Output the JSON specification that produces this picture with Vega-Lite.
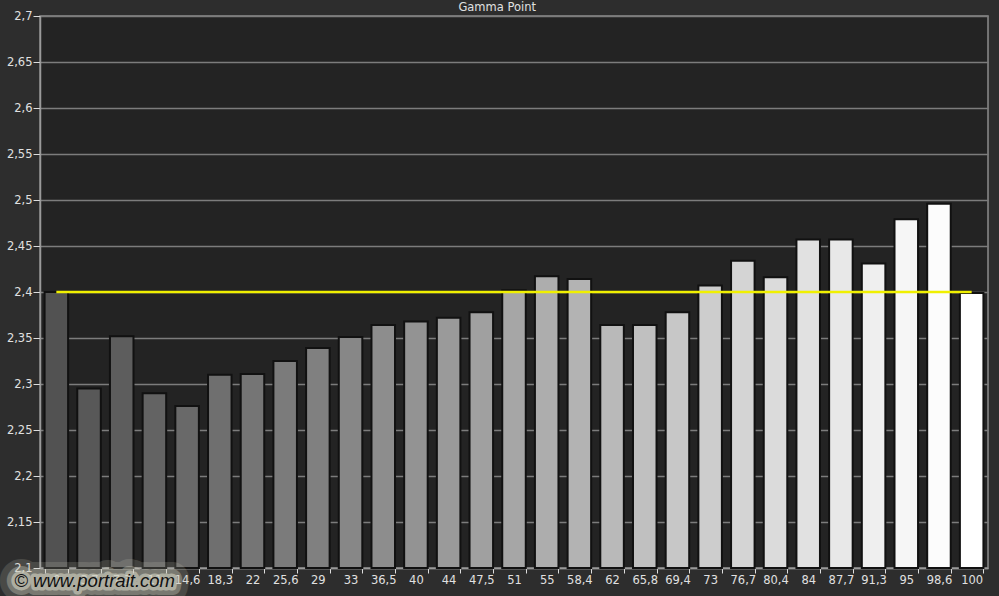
{
  "$schema": "https://vega.github.io/schema/vega-lite/v6.json",
  "width": 948,
  "height": 552,
  "autosize": {"type": "none"},
  "padding": {"left": 40, "top": 16, "right": 11, "bottom": 28},
  "background": "#2d2d2d",
  "title": {"text": "Gamma Point", "color": "#e0e0e0", "font": "DejaVu Sans", "fontSize": 11.5, "fontWeight": "normal", "anchor": "middle", "frame": "bounds", "offset": -3},
  "config": {
    "view": {"fill": "#232323", "stroke": "#8c8c8c", "strokeWidth": 1.5},
    "axis": {"labelFont": "DejaVu Sans", "labelFontSize": 11.5, "labelColor": "#e0e0e0", "domainColor": "#9a9a9a", "domainWidth": 1.5, "tickColor": "#dddddd", "title": null}
  },
  "datasets": {
    "gamma": [
      {"label": "0", "level": 0, "gamma": 2.40, "target": 2.4},
      {"label": "3,7", "level": 3.7, "gamma": 2.295, "target": 2.4},
      {"label": "7,3", "level": 7.3, "gamma": 2.352, "target": 2.4},
      {"label": "11", "level": 11, "gamma": 2.29, "target": 2.4},
      {"label": "14,6", "level": 14.6, "gamma": 2.276, "target": 2.4},
      {"label": "18,3", "level": 18.3, "gamma": 2.31, "target": 2.4},
      {"label": "22", "level": 22, "gamma": 2.311, "target": 2.4},
      {"label": "25,6", "level": 25.6, "gamma": 2.325, "target": 2.4},
      {"label": "29", "level": 29, "gamma": 2.339, "target": 2.4},
      {"label": "33", "level": 33, "gamma": 2.351, "target": 2.4},
      {"label": "36,5", "level": 36.5, "gamma": 2.364, "target": 2.4},
      {"label": "40", "level": 40, "gamma": 2.368, "target": 2.4},
      {"label": "44", "level": 44, "gamma": 2.372, "target": 2.4},
      {"label": "47,5", "level": 47.5, "gamma": 2.378, "target": 2.4},
      {"label": "51", "level": 51, "gamma": 2.402, "target": 2.4},
      {"label": "55", "level": 55, "gamma": 2.417, "target": 2.4},
      {"label": "58,4", "level": 58.4, "gamma": 2.414, "target": 2.4},
      {"label": "62", "level": 62, "gamma": 2.364, "target": 2.4},
      {"label": "65,8", "level": 65.8, "gamma": 2.364, "target": 2.4},
      {"label": "69,4", "level": 69.4, "gamma": 2.378, "target": 2.4},
      {"label": "73", "level": 73, "gamma": 2.407, "target": 2.4},
      {"label": "76,7", "level": 76.7, "gamma": 2.434, "target": 2.4},
      {"label": "80,4", "level": 80.4, "gamma": 2.416, "target": 2.4},
      {"label": "84", "level": 84, "gamma": 2.457, "target": 2.4},
      {"label": "87,7", "level": 87.7, "gamma": 2.457, "target": 2.4},
      {"label": "91,3", "level": 91.3, "gamma": 2.431, "target": 2.4},
      {"label": "95", "level": 95, "gamma": 2.479, "target": 2.4},
      {"label": "98,6", "level": 98.6, "gamma": 2.496, "target": 2.4},
      {"label": "100", "level": 100, "gamma": 2.399, "target": 2.4}
    ],
    "note": [{"text": "© www.portrait.com"}]
  },
  "layer": [
    {
      "data": {"name": "gamma"},
      "mark": {"type": "bar", "stroke": "#111111", "strokeWidth": 2},
      "encoding": {
        "x": {"field": "label", "type": "nominal", "sort": null,
              "scale": {"paddingInner": 0.28, "paddingOuter": 0.14},
              "axis": {"labelAngle": 0, "tickBand": "extent", "tickSize": 5, "labelPadding": 1, "grid": false}},
        "y": {"field": "gamma", "type": "quantitative",
              "scale": {"domain": [2.1, 2.7], "nice": false, "zero": false},
              "axis": {"values": [2.1, 2.15, 2.2, 2.25, 2.3, 2.35, 2.4, 2.45, 2.5, 2.55, 2.6, 2.65, 2.7],
                       "labelExpr": "replace(format(datum.value, '.2~f'), '.', ',')",
                       "grid": true, "gridColor": "#7c7c7c", "gridWidth": 1.3, "tickSize": 7, "labelPadding": 1}},
        "y2": {"datum": 2.1},
        "color": {"field": "level", "type": "quantitative", "scale": {"domain": [0, 100], "range": ["#525252", "#ffffff"]}, "legend": null}
      }
    },
    {
      "data": {"name": "gamma"},
      "mark": {"type": "line", "color": "#f0f000", "strokeWidth": 2.5},
      "encoding": {
        "x": {"field": "label", "type": "nominal", "sort": null},
        "y": {"field": "target", "type": "quantitative", "scale": {"domain": [2.1, 2.7], "nice": false, "zero": false}}
      }
    },
    {
      "data": {"name": "note"},
      "mark": {"type": "text", "font": "Liberation Sans", "fontSize": 18.5, "fontStyle": "italic", "align": "left", "baseline": "alphabetic", "dx": -42, "dy": 19, "color": "#c8c8b8", "stroke": "#c8c8b8", "strokeWidth": 30, "strokeJoin": "round", "opacity": 0.18},
      "encoding": {"x": {"datum": "0", "type": "nominal"}, "y": {"datum": 2.1, "type": "quantitative"}, "text": {"field": "text"}}
    },
    {
      "data": {"name": "note"},
      "mark": {"type": "text", "font": "Liberation Sans", "fontSize": 18.5, "fontStyle": "italic", "align": "left", "baseline": "alphabetic", "dx": -42, "dy": 19, "color": "#d2d2c2", "stroke": "#d2d2c2", "strokeWidth": 16, "strokeJoin": "round", "opacity": 0.35},
      "encoding": {"x": {"datum": "0", "type": "nominal"}, "y": {"datum": 2.1, "type": "quantitative"}, "text": {"field": "text"}}
    },
    {
      "data": {"name": "note"},
      "mark": {"type": "text", "font": "Liberation Sans", "fontSize": 18.5, "fontStyle": "italic", "align": "left", "baseline": "alphabetic", "dx": -42, "dy": 19, "color": "#d2d2c2", "stroke": "#d2d2c2", "strokeWidth": 7, "strokeJoin": "round", "opacity": 0.6},
      "encoding": {"x": {"datum": "0", "type": "nominal"}, "y": {"datum": 2.1, "type": "quantitative"}, "text": {"field": "text"}}
    },
    {
      "data": {"name": "note"},
      "mark": {"type": "text", "font": "Liberation Sans", "fontSize": 18.5, "fontStyle": "italic", "align": "left", "baseline": "alphabetic", "dx": -42, "dy": 19, "color": "#111111"},
      "encoding": {"x": {"datum": "0", "type": "nominal"}, "y": {"datum": 2.1, "type": "quantitative"}, "text": {"field": "text"}}
    }
  ]
}
